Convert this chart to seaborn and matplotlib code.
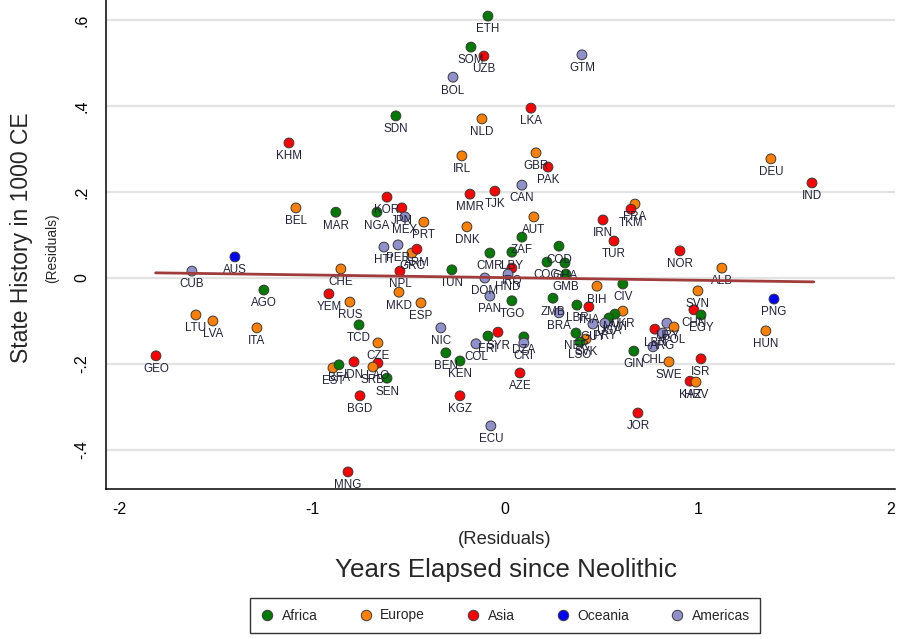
import matplotlib
matplotlib.use("Agg")
import matplotlib.pyplot as plt
from matplotlib.lines import Line2D
import seaborn as sns
import pandas as pd

# ---------------- data ----------------
codes = ["ETH", "SOM", "UZB", "BOL", "GTM", "SDN", "NLD", "LKA", "KHM", "IRL",
         "GBR", "PAK", "DEU", "IND", "CAN", "MMR", "TJK", "BEL", "MAR", "KOR",
         "NGA", "JPN", "MEX", "PRT", "DNK", "AUT", "ZAF", "IRN", "FRA", "TKM",
         "TUR", "NOR", "ALB", "CUB", "AUS", "CHE", "AGO", "YEM", "RUS", "LTU",
         "LVA", "ITA", "GEO", "TCD", "CZE", "IDN", "LAO", "EST", "BFA", "SRB",
         "SEN", "BGD", "MNG", "HTI", "PER", "GRC", "ARM", "NPL", "TUN", "CMR",
         "LBY", "IRQ", "HND", "DOM", "PAN", "MKD", "ESP", "TGO", "NIC", "BEN",
         "KEN", "COL", "ERI", "SYR", "KGZ", "ECU", "DZA", "CRI", "AZE", "COD",
         "COG", "GHA", "GMB", "BIH", "CIV", "PNG", "HUN", "SVN", "CHN", "EGY",
         "ISR", "KAZ", "HRV", "SWE", "GIN", "CHL", "LBN", "URY", "ARG", "POL",
         "JOR", "UKR", "MWI", "UGA", "PRY", "THA", "ZMB", "BRA", "LBR", "GUY",
         "NER", "SVK", "LSO"]
regions = ["Africa", "Africa", "Asia", "Americas", "Americas", "Africa", "Europe", "Asia", "Asia", "Europe",
           "Europe", "Asia", "Europe", "Asia", "Americas", "Asia", "Asia", "Europe", "Africa", "Asia",
           "Africa", "Asia", "Americas", "Europe", "Europe", "Europe", "Africa", "Asia", "Europe", "Asia",
           "Asia", "Asia", "Europe", "Americas", "Oceania", "Europe", "Africa", "Asia", "Europe", "Europe",
           "Europe", "Europe", "Asia", "Africa", "Europe", "Asia", "Asia", "Europe", "Africa", "Europe",
           "Africa", "Asia", "Asia", "Americas", "Americas", "Europe", "Asia", "Asia", "Africa", "Africa",
           "Africa", "Asia", "Americas", "Americas", "Americas", "Europe", "Europe", "Africa", "Americas", "Africa",
           "Africa", "Americas", "Africa", "Asia", "Asia", "Americas", "Africa", "Americas", "Asia", "Africa",
           "Africa", "Africa", "Africa", "Europe", "Africa", "Oceania", "Europe", "Europe", "Asia", "Africa",
           "Asia", "Asia", "Europe", "Europe", "Africa", "Americas", "Asia", "Americas", "Americas", "Europe",
           "Asia", "Europe", "Africa", "Africa", "Americas", "Asia", "Africa", "Americas", "Africa", "Americas",
           "Africa", "Europe", "Africa"]
x_resid = [-0.088, -0.176, -0.109, -0.269, 0.399, -0.565, -0.119, 0.135, -1.119, -0.223,
           0.161, 0.223, 1.378, 1.591, 0.088, -0.181, -0.052, -1.083, -0.876, -0.611,
           -0.663, -0.534, -0.518, -0.420, -0.197, 0.150, 0.088, 0.508, 0.674, 0.653,
           0.565, 0.907, 1.124, -1.622, -1.399, -0.850, -1.249, -0.912, -0.803, -1.601,
           -1.513, -1.285, -1.808, -0.756, -0.658, -0.782, -0.658, -0.891, -0.860, -0.684,
           -0.611, -0.751, -0.813, -0.627, -0.554, -0.482, -0.456, -0.544, -0.275, -0.078,
           0.036, 0.036, 0.016, -0.104, -0.078, -0.549, -0.435, 0.036, -0.332, -0.306,
           -0.233, -0.150, -0.088, -0.036, -0.233, -0.073, 0.098, 0.098, 0.078, 0.280,
           0.218, 0.311, 0.316, 0.477, 0.611, 1.394, 1.352, 1.000, 0.979, 1.016,
           1.016, 0.959, 0.990, 0.850, 0.668, 0.767, 0.777, 0.839, 0.818, 0.876,
           0.689, 0.611, 0.570, 0.539, 0.518, 0.435, 0.249, 0.280, 0.373, 0.456,
           0.368, 0.420, 0.389]
y_resid = [0.609, 0.537, 0.516, 0.467, 0.519, 0.377, 0.370, 0.395, 0.314, 0.284,
           0.291, 0.258, 0.277, 0.221, 0.216, 0.195, 0.202, 0.163, 0.153, 0.188,
           0.153, 0.163, 0.142, 0.130, 0.119, 0.142, 0.095, 0.135, 0.172, 0.160,
           0.086, 0.063, 0.023, 0.016, 0.049, 0.021, -0.028, -0.037, -0.056, -0.086,
           -0.100, -0.116, -0.181, -0.109, -0.151, -0.195, -0.198, -0.209, -0.202, -0.207,
           -0.233, -0.274, -0.451, 0.072, 0.077, 0.058, 0.067, 0.016, 0.019, 0.058,
           0.060, 0.023, 0.009, 0.000, -0.042, -0.033, -0.058, -0.053, -0.116, -0.174,
           -0.193, -0.153, -0.135, -0.126, -0.274, -0.344, -0.137, -0.151, -0.221, 0.074,
           0.037, 0.035, 0.009, -0.019, -0.014, -0.049, -0.123, -0.030, -0.074, -0.086,
           -0.188, -0.240, -0.242, -0.195, -0.170, -0.160, -0.119, -0.105, -0.128, -0.114,
           -0.314, -0.077, -0.084, -0.093, -0.105, -0.067, -0.047, -0.081, -0.063, -0.107,
           -0.128, -0.142, -0.149]

fit_x = [-1.81, 1.60]
fit_y = [0.012, -0.009]

region_order = ["Africa", "Europe", "Asia", "Oceania", "Americas"]
palette = {"Africa": "#007a00", "Europe": "#ff8000", "Asia": "#ff0000",
           "Oceania": "#0000ff", "Americas": "#9090cc"}

df = pd.DataFrame({"code": codes, "region": regions, "x": x_resid, "y": y_resid})

# ---------------- figure ----------------
sns.set_theme(style="white")
plt.rcParams["font.family"] = ["Liberation Sans", "DejaVu Sans"]

W, H = 897, 639
fig = plt.figure(figsize=(W / 100, H / 100), dpi=100)
fig.patch.set_facecolor("white")
ax = fig.add_axes([106 / W, 1 - 489 / H, 789 / W, 489 / H])
ax.set_facecolor("white")

ax.set_xlim(-2.067, 2.021)
ax.set_ylim(-0.4907, 0.6465)

ax.set_yticks([-0.4, -0.2, 0, 0.2, 0.4, 0.6])
ax.set_yticklabels(["-.4", "-.2", "0", ".2", ".4", ".6"], rotation=90, va="center")
ax.set_xticks([-2, -1, 0, 1, 2])
ax.set_xticklabels(["-2", "-1", "0", "1", "2"])
ax.tick_params(axis="both", direction="out", length=5, width=1, color="black",
               labelsize=11.5, labelcolor="black", pad=4)
ax.tick_params(axis="y", pad=7)
ax.yaxis.grid(True, color="#e3e3e3", linewidth=1.6)
ax.xaxis.grid(False)
ax.set_axisbelow(True)

for s in ["top", "right"]:
    ax.spines[s].set_visible(False)
for s in ["left", "bottom"]:
    ax.spines[s].set_color("black")
    ax.spines[s].set_linewidth(1.1)

sns.scatterplot(data=df, x="x", y="y", hue="region", hue_order=region_order,
                palette=palette, s=50, edgecolor="#3a3a3a", linewidth=0.7,
                legend=False, ax=ax, zorder=3)

for c, xv, yv in zip(codes, x_resid, y_resid):
    ax.annotate(c, (xv, yv), xytext=(0, -9.6), textcoords="offset points",
                ha="center", va="center", fontsize=8.4, color="#22223a", zorder=4)

sns.lineplot(x=fit_x, y=fit_y, color="#a03c3c", linewidth=2.0, ax=ax, zorder=5)

ax.set_xlabel("")
ax.set_ylabel("")

# axis titles
fig.text(505 / W, 1 - 540 / H, "(Residuals)", ha="center", va="center", fontsize=13.3)
fig.text(506 / W, 1 - 570 / H, "Years Elapsed since Neolithic", ha="center", va="center", fontsize=18.7)
fig.text(22 / W, 1 - 238 / H, "State History in 1000 CE", ha="center", va="center",
         rotation=90, fontsize=16.5)
fig.text(52 / W, 1 - 248 / H, "(Residuals)", ha="center", va="center", rotation=90, fontsize=9.9)

# legend
handles = [Line2D([0], [0], marker="o", linestyle="", markersize=7.5,
                  markerfacecolor=palette[r], markeredgecolor="#3a3a3a", markeredgewidth=0.7)
           for r in region_order]
leg = fig.legend(handles, region_order, loc="center", bbox_to_anchor=(505 / W, 1 - 615.5 / H),
                 ncol=5, frameon=True, fancybox=False, fontsize=10, handletextpad=0.55,
                 columnspacing=2.95, borderpad=0.75, handlelength=1.0)
leg.get_frame().set_edgecolor("black")
leg.get_frame().set_linewidth(1.0)

fig.savefig("out.png", dpi=100, facecolor="white")
